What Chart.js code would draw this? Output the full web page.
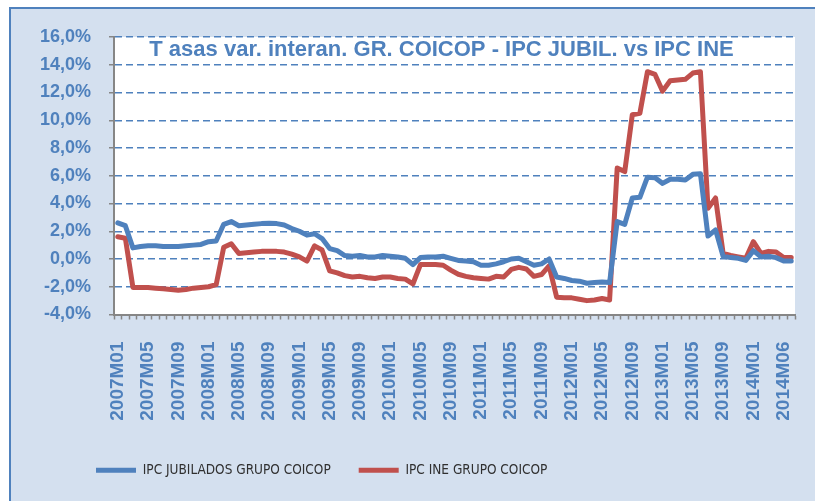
<!DOCTYPE html>
<html>
<head>
<meta charset="utf-8">
<script src="https://cdn.jsdelivr.net/npm/chart.js@4.4.1/dist/chart.umd.min.js"></script>
<style>
  html, body { margin: 0; padding: 0; background: #fff; }
  canvas { display: block; }
</style>
</head>
<body>
<canvas id="myChart" width="815" height="501"></canvas>
<script>
// monthly categories 2007M01 .. 2014M06
const months = [];
for (let y = 2007; y <= 2014; y++) {
    for (let m = 1; m <= 12; m++) {
        if (y === 2014 && m > 6) break;
        months.push(y + 'M' + String(m).padStart(2, '0'));
    }
}

// labels shown on the x axis, one every 4 categories
const tickLabels = ['2007M01', '2007M05', '2007M09', '2008M01', '2008M05', '2008M09',
    '2009M01', '2009M05', '2009M09', '2010M01', '2010M05', '2010M09',
    '2011M01', '2011M05', '2011M09', '2012M01', '2012M05', '2012M09',
    '2013M01', '2013M05', '2013M09', '2014M01', '2014M06'];

const ipcJubilados = [
    2.6, 2.4, 0.8, 0.9, 0.95, 0.95, 0.9, 0.9, 0.9, 0.95,
    1.0, 1.05, 1.25, 1.3, 2.5, 2.7, 2.4, 2.45, 2.5, 2.55,
    2.57, 2.55, 2.45, 2.2, 2.0, 1.72, 1.82, 1.47, 0.75, 0.6,
    0.25, 0.2, 0.25, 0.15, 0.15, 0.25, 0.2, 0.15, 0.05, -0.4,
    0.1, 0.15, 0.15, 0.2, 0.05, -0.1, -0.15, -0.2, -0.45, -0.45,
    -0.35, -0.2, 0.0, 0.05, -0.2, -0.45, -0.35, 0.0, -1.3, -1.4,
    -1.55, -1.6, -1.75, -1.7, -1.65, -1.7, 2.7, 2.5, 4.4, 4.45,
    5.9, 5.85, 5.45, 5.75, 5.75, 5.7, 6.1, 6.15, 1.65, 2.1,
    0.2, 0.1, 0.05, -0.1, 0.6, 0.15, 0.2, 0.1, -0.15, -0.15
];

const ipcIne = [
    1.6, 1.5, -2.05, -2.05, -2.05, -2.1, -2.15, -2.2, -2.25, -2.2,
    -2.1, -2.05, -2.0, -1.85, 0.85, 1.1, 0.4, 0.45, 0.5, 0.55,
    0.55, 0.55, 0.5, 0.35, 0.15, -0.15, 0.95, 0.65, -0.85, -1.0,
    -1.2, -1.3, -1.25, -1.35, -1.4, -1.3, -1.3, -1.4, -1.45, -1.8,
    -0.4, -0.4, -0.4, -0.45, -0.8, -1.1, -1.25, -1.35, -1.4, -1.45,
    -1.25, -1.3, -0.75, -0.6, -0.72, -1.25, -1.12, -0.5, -2.75, -2.8,
    -2.8, -2.9, -3.0, -2.95, -2.85, -2.95, 6.55, 6.3, 10.4, 10.5,
    13.5, 13.3, 12.1, 12.85, 12.9, 12.95, 13.4, 13.5, 3.65, 4.4,
    0.4, 0.25, 0.15, 0.05, 1.25, 0.4, 0.55, 0.5, 0.1, 0.1
];

const BLUE = '#4F81BD';
const RED = '#C0504D';
const GREY = '#868686';

// legend text is condensed in the original, use a narrow face if there is one
const pickLegendFont = () => {
    const c = document.createElement('canvas').getContext('2d');
    const t = 'IPC JUBILADOS GRUPO COICOP';
    c.font = '100px monospace';
    const base = c.measureText(t).width;
    for (const f of ['Liberation Sans Narrow', 'DejaVu Sans Condensed']) {
        c.font = `100px "${f}", monospace`;
        const w = c.measureText(t).width;
        if (w !== base) return { family: f, size: Math.min(15, Math.round(190 / w * 100 * 2) / 2) };
    }
    c.font = '100px "Liberation Sans"';
    return { family: 'Liberation Sans', size: Math.round(190 / c.measureText(t).width * 100 * 2) / 2 };
};
const legendFont = pickLegendFont();

const framePlugin = {
    id: 'frame',
    afterLayout(chart) {
        // legend sits left of centre, as in the original
        if (chart.legend) chart.legend.left = 68;
    },
    beforeDraw(chart) {
        const { ctx, chartArea: a, width, height } = chart;
        ctx.save();
        ctx.fillStyle = '#fff';
        ctx.fillRect(0, 0, width, height);
        ctx.fillStyle = '#D4E0EF';
        ctx.fillRect(10, 7, width, height);
        ctx.strokeStyle = BLUE;
        ctx.lineWidth = 2;
        ctx.strokeRect(10, 8, width + 20, height + 20);
        ctx.fillStyle = '#fff';
        ctx.fillRect(a.left, a.top, a.right - a.left, a.bottom - a.top);
        ctx.restore();
    },
    afterDraw(chart) {
        const { ctx, chartArea: a } = chart;
        ctx.save();
        ctx.font = 'bold 22px "Liberation Sans"';
        ctx.fillStyle = BLUE;
        ctx.textAlign = 'center';
        ctx.textBaseline = 'alphabetic';
        ctx.fillText('T asas var. interan. GR. COICOP - IPC JUBIL. vs IPC INE', (a.left + a.right) / 2 - 13, a.top + 19);
        ctx.restore();
    }
};

const dataChart = {
    labels: months,
    datasets: [{
        label: 'IPC JUBILADOS GRUPO COICOP',
        data: ipcJubilados,
        borderColor: BLUE,
        backgroundColor: BLUE,
        pointBorderWidth: 5
    }, {
        label: 'IPC INE GRUPO COICOP',
        data: ipcIne,
        borderColor: RED,
        backgroundColor: RED,
        pointBorderWidth: 5
    }]
};

const config = {
    type: 'line',
    data: dataChart,
    options: {
        responsive: false,
        animation: false,
        layout: { padding: { left: 10, right: 20, top: 37, bottom: 14 } },
        elements: {
            line: { borderWidth: 5, tension: 0, borderJoinStyle: 'round', borderCapStyle: 'round', fill: false },
            point: { radius: 0, hoverRadius: 0 }
        },
        plugins: {
            tooltip: { enabled: false },
            legend: {
                position: 'bottom',
                align: 'start',
                labels: {
                    usePointStyle: true,
                    pointStyle: 'line',
                    pointStyleWidth: 40,
                    padding: 28,
                    color: '#303030',
                    font: { family: legendFont.family, size: legendFont.size }
                }
            }
        },
        scales: {
            x: {
                offset: true,
                afterFit: (s) => { s.height = 121; s.paddingLeft = 0; s.paddingRight = 0; },
                grid: {
                    display: true,
                    drawOnChartArea: false,
                    offset: true,
                    tickLength: 5,
                    tickColor: GREY,
                    tickWidth: 1.5
                },
                border: { color: GREY, width: 2 },
                ticks: {
                    autoSkip: false,
                    minRotation: 90,
                    maxRotation: 90,
                    padding: 22,
                    color: BLUE,
                    font: { family: 'Liberation Sans', size: 19, weight: 'bold' },
                    callback: (val, i) => (i % 4 === 0 ? tickLabels[i / 4] : '')
                }
            },
            y: {
                min: -4,
                max: 16,
                afterFit: (s) => { s.width = 104; s.paddingTop = 0; s.paddingBottom = 0; },
                grid: {
                    color: (c) => (c.tick && c.tick.value === -4 ? 'rgba(0,0,0,0)' : BLUE),
                    lineWidth: 1.5,
                    tickBorderDash: [],
                    tickColor: GREY,
                    tickLength: 5,
                    tickWidth: 1.5
                },
                border: { color: GREY, width: 2, dash: [7, 4] },
                ticks: {
                    stepSize: 2,
                    padding: 18,
                    color: BLUE,
                    font: { family: 'Liberation Sans', size: 18, weight: 'bold' },
                    callback: (v) => v.toFixed(1).replace('.', ',') + '%'
                }
            }
        }
    },
    plugins: [framePlugin]
};

const myChart = new Chart(document.getElementById('myChart'), config);
</script>
</body>
</html>
